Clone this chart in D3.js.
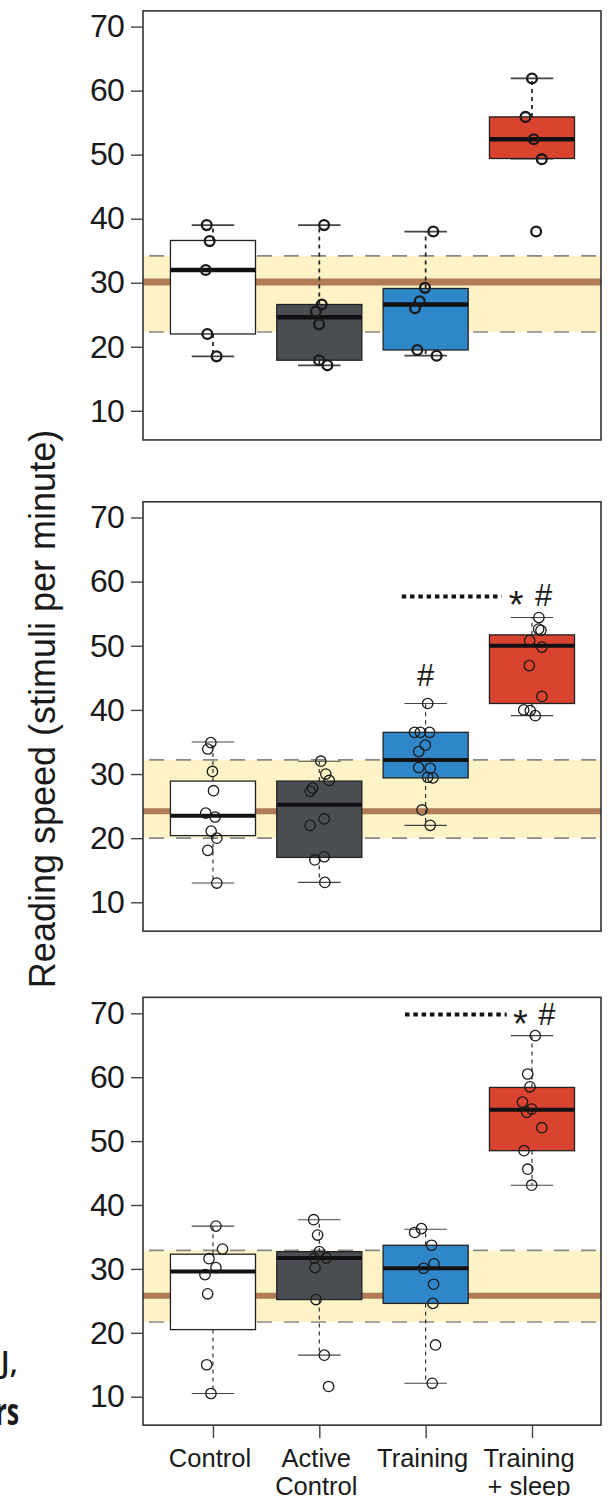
<!DOCTYPE html>
<html><head><meta charset="utf-8">
<script src="https://cdn.jsdelivr.net/npm/d3@7"></script>
<style>body{margin:0;background:#fff;overflow:hidden}</style>
</head><body>
<script>
// ---------- data ----------
const categories = ["Control", "Active Control", "Training", "Training + sleep"];
const catLabelLines = [["Control"], ["Active", "Control"], ["Training"], ["Training", "+ sleep"]];
const yTicks = [10, 20, 30, 40, 50, 60, 70];
const boxColors = ["#ffffff", "#4a4d51", "#2f86c8", "#d9432f"];
const yTitle = "Reading speed (stimuli per minute)";

// panel A (top)
const aWhiskerLow  = [18.5, 17.1, 18.6, 49.4];
const aQ1          = [22.0, 17.9, 19.5, 49.4];
const aMedian      = [32.0, 24.6, 26.6, 52.4];
const aQ3          = [36.6, 26.6, 29.1, 55.9];
const aWhiskerHigh = [39.0, 39.0, 38.0, 61.9];
const aPoints = [
  [39.0, 36.5, 32.0, 22.0, 18.5],
  [39.0, 26.6, 25.5, 23.5, 17.9, 17.1],
  [38.0, 29.2, 27.1, 26.0, 19.5, 18.6],
  [61.9, 55.9, 52.4, 49.3, 38.0]
];
const aJitter = [
  [-0.059, -0.031, -0.068, -0.053, 0.034],
  [0.045, 0.023, -0.033, -0.002, -0.002, 0.076],
  [0.072, -0.006, -0.056, -0.100, -0.078, 0.103],
  [0.000, -0.061, 0.017, 0.092, 0.039]
];
const aBand = [22.3, 30.1, 34.2];

// panel B (middle)
const bWhiskerLow  = [13.0, 13.1, 22.0, 39.1];
const bQ1          = [20.4, 17.0, 29.4, 41.0];
const bMedian      = [23.5, 25.2, 32.2, 50.0];
const bQ3          = [28.9, 28.9, 36.5, 51.7];
const bWhiskerHigh = [35.0, 32.0, 41.0, 54.4];
const bPoints = [
  [34.9, 33.9, 30.4, 27.4, 23.9, 23.3, 21.1, 20.0, 18.1, 13.0],
  [32.0, 30.0, 29.0, 27.8, 27.3, 23.0, 22.0, 17.1, 16.6, 13.1],
  [41.0, 36.5, 36.5, 36.5, 34.5, 33.5, 31.0, 30.9, 29.5, 29.4, 24.4, 22.0],
  [54.4, 52.6, 52.4, 50.8, 49.8, 46.9, 42.1, 40.0, 39.9, 39.1]
];
const bJitter = [
  [-0.020, -0.049, -0.005, 0.005, -0.068, 0.020, -0.017, 0.036, -0.049, 0.036],
  [0.014, 0.061, 0.093, -0.063, -0.085, 0.046, -0.086, 0.046, -0.042, 0.052],
  [0.019, -0.105, -0.050, 0.037, -0.003, -0.065, -0.065, 0.043, 0.019, 0.068, -0.034, 0.043],
  [0.065, 0.062, 0.084, -0.022, 0.093, -0.025, 0.093, -0.078, -0.016, 0.031]
];
const bBand = [20.0, 24.2, 32.2];

// panel C (bottom)
const cWhiskerLow  = [10.5, 16.5, 12.1, 43.1];
const cQ1          = [20.5, 25.2, 24.6, 48.5];
const cMedian      = [29.6, 31.7, 30.1, 54.9];
const cQ3          = [32.3, 32.7, 33.7, 58.4];
const cWhiskerHigh = [36.7, 37.7, 36.2, 66.5];
const cPoints = [
  [36.7, 33.1, 31.6, 30.2, 29.1, 26.1, 15.0, 10.5],
  [37.7, 35.3, 32.7, 31.7, 31.7, 30.2, 25.2, 16.5, 11.6],
  [36.3, 35.7, 33.7, 30.8, 30.1, 27.6, 24.6, 18.1, 12.1],
  [66.5, 60.5, 58.5, 56.1, 55.0, 54.5, 52.1, 48.5, 45.6, 43.1]
];
const cJitter = [
  [0.028, 0.090, -0.037, 0.028, -0.075, -0.050, -0.059, -0.019],
  [-0.053, -0.016, 0.000, -0.047, 0.065, -0.040, -0.031, 0.047, 0.087],
  [-0.040, -0.103, 0.056, 0.078, -0.019, 0.075, 0.068, 0.093, 0.062],
  [0.031, -0.040, -0.019, -0.090, -0.003, -0.050, 0.093, -0.075, -0.040, -0.003]
];
const cBand = [21.7, 25.8, 32.9];

// significance markers: value of dotted line (null = none) and "#" above Training
const sigLineValue = [null, 57.7, 69.8];
const sigLineFrom  = [null, 2.775, 2.806];
const sigLineTo    = [null, 3.715, 3.762];
const sigStarAt    = [null, 3.85, 3.89];
const sigHashAt    = [null, 4.11, 4.14];
const trainingHashValue = [null, 45.5, null];
const sideFragments = ["J,", "rs"];

// ---------- drawing ----------
const W = 609, H = 1496;
const svg = d3.select("body").append("svg").attr("width", W).attr("height", H)
  .style("font-family", "'Liberation Sans', Arial, Helvetica, sans-serif");

const x = d3.scaleLinear().domain([0.342, 4.649]).range([143, 601]);
const boxHalf = 0.4, capHalf = 0.2;

const panels = [
  {y10: 410.8, y70: 26.6, top: 72.45, bot: 5.45, lo: aWhiskerLow, q1: aQ1, med: aMedian, q3: aQ3, hi: aWhiskerHigh,
   pts: aPoints, jit: aJitter, band: aBand, heavy: true, brownW: 7},
  {y10: 902.3, y70: 517.5, top: 72.45, bot: 5.5, lo: bWhiskerLow, q1: bQ1, med: bMedian, q3: bQ3, hi: bWhiskerHigh,
   pts: bPoints, jit: bJitter, band: bBand, heavy: false, brownW: 6},
  {y10: 1396.7, y70: 1013.3, top: 72.5, bot: 5.55, lo: cWhiskerLow, q1: cQ1, med: cMedian, q3: cQ3, hi: cWhiskerHigh,
   pts: cPoints, jit: cJitter, band: cBand, heavy: false, brownW: 6}
];

panels.forEach((p, pi) => {
  const y = d3.scaleLinear().domain([10, 70]).range([p.y10, p.y70]);
  const g = svg.append("g");
  const x0 = x.range()[0], x1 = x.range()[1];
  const yTop = y(p.top), yBot = y(p.bot);

  // reference band
  g.append("rect").attr("x", x0).attr("width", x1 - x0)
    .attr("y", y(p.band[2])).attr("height", y(p.band[0]) - y(p.band[2]))
    .attr("fill", "#fdf3c6");
  [p.band[0], p.band[2]].forEach(v => {
    g.append("line").attr("x1", x0).attr("x2", x1).attr("y1", y(v)).attr("y2", y(v))
      .attr("stroke", "#888").attr("stroke-width", 1.6).attr("stroke-dasharray", "15,12")
      .attr("stroke-dashoffset", -6);
  });
  g.append("line").attr("x1", x0).attr("x2", x1).attr("y1", y(p.band[1])).attr("y2", y(p.band[1]))
    .attr("stroke", "#b07b55").attr("stroke-width", p.brownW);

  const sw = p.heavy ? 2.2 : 1.4;
  categories.forEach((c, i) => {
    const cx = x(i + 1);
    // whiskers
    g.append("line").attr("x1", cx).attr("x2", cx).attr("y1", y(p.q3[i])).attr("y2", y(p.hi[i]))
      .attr("stroke", "#222").attr("stroke-width", sw * 0.8).attr("stroke-dasharray", "4,4");
    g.append("line").attr("x1", cx).attr("x2", cx).attr("y1", y(p.q1[i])).attr("y2", y(p.lo[i]))
      .attr("stroke", "#222").attr("stroke-width", sw * 0.8).attr("stroke-dasharray", "4,4");
    [p.hi[i], p.lo[i]].forEach(v => {
      g.append("line").attr("x1", x(i + 1 - capHalf)).attr("x2", x(i + 1 + capHalf))
        .attr("y1", y(v)).attr("y2", y(v)).attr("stroke", "#444").attr("stroke-width", sw * 0.8);
    });
    // box
    g.append("rect").attr("x", x(i + 1 - boxHalf)).attr("width", x(i + 1 + boxHalf) - x(i + 1 - boxHalf))
      .attr("y", y(p.q3[i])).attr("height", y(p.q1[i]) - y(p.q3[i]))
      .attr("fill", boxColors[i]).attr("stroke", "#222").attr("stroke-width", 1.3);
    // median
    g.append("line").attr("x1", x(i + 1 - boxHalf)).attr("x2", x(i + 1 + boxHalf))
      .attr("y1", y(p.med[i])).attr("y2", y(p.med[i]))
      .attr("stroke", "#111").attr("stroke-width", p.heavy ? 4.5 : 4);
  });

  // points
  categories.forEach((c, i) => {
    g.selectAll(null).data(p.pts[i]).enter().append("circle")
      .attr("cx", (d, k) => x(i + 1 + p.jit[i][k]))
      .attr("cy", d => y(d))
      .attr("r", p.heavy ? 4.9 : 5.2)
      .attr("fill", "none").attr("stroke", "#1a1a1a").attr("stroke-width", p.heavy ? 2.3 : 1.3);
  });

  // frame
  g.append("rect").attr("x", x0).attr("y", yTop).attr("width", x1 - x0).attr("height", yBot - yTop)
    .attr("fill", "none").attr("stroke", "#333").attr("stroke-width", 1.6);

  // y axis
  const ax = g.append("g").attr("transform", `translate(${x0},0)`)
    .call(d3.axisLeft(y).tickValues(yTicks).tickSize(12).tickPadding(7).tickFormat(d3.format("d")));
  ax.select(".domain").remove();
  ax.selectAll(".tick line").attr("stroke", "#444").attr("stroke-width", 1.4);
  ax.selectAll(".tick text").attr("font-size", 32).attr("fill", "#1a1a1a")
    .attr("font-family", "'Liberation Sans', Arial, sans-serif").attr("letter-spacing", -0.8);

  // significance
  if (sigLineValue[pi] != null) {
    const ly = y(sigLineValue[pi]);
    g.append("line").attr("x1", x(sigLineFrom[pi])).attr("x2", x(sigLineTo[pi])).attr("y1", ly).attr("y2", ly)
      .attr("stroke", "#111").attr("stroke-width", 4).attr("stroke-dasharray", "4.5,3.8");
    g.append("text").attr("x", x(sigStarAt[pi])).attr("y", ly + 22).attr("text-anchor", "middle")
      .attr("font-size", 38).attr("fill", "#1a1a1a").text("*");
    g.append("text").attr("x", x(sigHashAt[pi])).attr("y", ly + 10).attr("text-anchor", "middle")
      .attr("font-size", 31).attr("fill", "#1a1a1a").text("#");
  }
  if (trainingHashValue[pi] != null) {
    g.append("text").attr("x", x(3)).attr("y", y(trainingHashValue[pi]) + 11).attr("text-anchor", "middle")
      .attr("font-size", 31).attr("fill", "#1a1a1a").text("#");
  }

  // x axis on bottom panel
  if (pi === 2) {
    const xa = g.append("g").attr("transform", `translate(0,${yBot})`)
      .call(d3.axisBottom(x).tickValues([1, 2, 3, 4]).tickSize(13).tickFormat(""));
    xa.select(".domain").remove();
    xa.selectAll(".tick line").attr("stroke", "#444").attr("stroke-width", 1.4);
    catLabelLines.forEach((lines, i) => {
      lines.forEach((t, k) => {
        g.append("text").attr("x", x(i + 1) - 3).attr("y", yBot + 42 + k * 28)
          .attr("text-anchor", "middle").attr("font-size", 25.5).attr("fill", "#1a1a1a").text(t);
      });
    });
  }
});

// y axis title
svg.append("text")
  .attr("transform", "translate(55,709) rotate(-90)")
  .attr("text-anchor", "middle").attr("font-size", 36).attr("fill", "#1a1a1a")
  .text(yTitle);

// cropped fragments of neighbouring text at the left edge
svg.append("text").attr("x", 18).attr("y", 1373).attr("text-anchor", "end")
  .attr("font-family", "'Open Sans', sans-serif").attr("font-size", 30).attr("font-weight", 600)
  .attr("fill", "#1a1a1a").text(sideFragments[0]);
svg.append("text").attr("transform", "translate(19,1425) scale(0.65,1)").attr("text-anchor", "end")
  .attr("font-family", "'Open Sans', sans-serif").attr("font-size", 38).attr("font-weight", 700)
  .attr("fill", "#1a1a1a").text(sideFragments[1]);
</script>
</body></html>
